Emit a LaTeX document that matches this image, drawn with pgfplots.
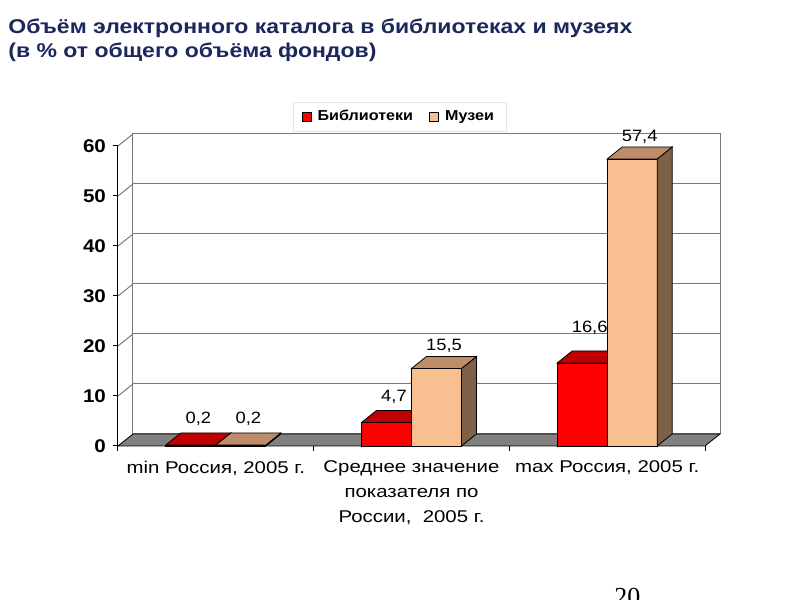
\documentclass[border=0pt]{standalone}
\usepackage{fontspec}
\setmainfont{Liberation Sans}[FakeStretch=1.12]
\newfontfamily\titlefont{Liberation Sans}[FakeStretch=1.15]
\newfontfamily\catfont{Liberation Sans}[FakeStretch=1.2]
\newfontfamily\pagefont{Liberation Serif}
\usepackage{pgfplots}
\usepackage{pgfplotstable}
\pgfplotsset{compat=1.18}
\definecolor{titleblue}{RGB}{28,40,92}
\definecolor{redfront}{RGB}{255,0,0}
\definecolor{redtop}{RGB}{192,0,0}
\definecolor{redside}{RGB}{128,0,0}
\definecolor{tanfront}{RGB}{248,192,144}
\definecolor{tantop}{RGB}{190,140,105}
\definecolor{tanside}{RGB}{125,96,70}
\definecolor{floorgray}{RGB}{128,128,128}
\definecolor{wallgray}{RGB}{120,120,120}
\pgfdeclareplotmark{empty}{}

\pgfplotstableread{
x lib mus llo mlo
0 0.2 0.2 9.5 9.5
1 4.7 15.5 9 7.5
2 16.6 57.4 14 7.5
}\data

\begin{document}
\begin{tikzpicture}
\useasboundingbox (0,0) rectangle (400pt,300pt);
\node[anchor=base west, inner sep=0, text=titleblue, font=\titlefont\bfseries\fontsize{10}{11}\selectfont] at (4pt,283pt) {Объём электронного каталога в библиотеках и музеях};
\node[anchor=base west, inner sep=0, text=titleblue, font=\titlefont\bfseries\fontsize{10}{11}\selectfont] at (4pt,271pt) {(в \% от общего объёма фондов)};

% back wall
\begin{axis}[at={(66.5pt,83pt)}, anchor=south west, scale only axis,
  width=293.5pt, height=150pt, xmin=-0.5, xmax=2.5, ymin=0, ymax=60,
  xtick=\empty, ytick={0,10,...,60}, yticklabels={}, major tick length=0pt,
  ymajorgrids, grid style={draw=wallgray, line width=0.5pt},
  axis line style={draw=wallgray, line width=0.5pt}]
\addplot[draw=none, mark=none] coordinates {(0,0)};
\end{axis}

% front axis with floor, bars
\begin{axis}[at={(59pt,77pt)}, anchor=south west, scale only axis,
  width=293.5pt, height=150pt, xmin=-0.5, xmax=2.5, ymin=0, ymax=60, clip=false,
  axis x line*=bottom, axis y line*=left,
  axis line style={black, line width=0.5pt},
  tick align=outside, major tick length=2.5pt,
  tick style={black, line width=0.5pt},
  ytick={0,10,...,60},
  xtick={-0.5,0.5,1.5,2.5}, xticklabels={},
  extra x ticks={0,1,2},
  extra x tick style={major tick length=0pt},
  extra x tick labels={{min Россия, 2005 г.},{Среднее значение\\показателя по\\России,\ \ 2005 г.},{max Россия, 2005 г.}},
  xticklabel style={align=center, anchor=north, yshift=-4pt, font=\catfont\fontsize{8.5}{12.3}\selectfont},
  yticklabel style={font=\bfseries\fontsize{9.2}{10}\selectfont},
  /pgf/number format/assume math mode=true,
  legend style={at={(0.48,1.097)}, anchor=center, legend columns=2,
    draw=black!10, fill=white, inner ysep=2pt, inner xsep=4pt,
    font=\bfseries\fontsize{7.2}{9}\selectfont,
    /tikz/every odd column/.append style={column sep=1pt},
    /tikz/every even column/.append style={column sep=6pt}},
]
\addlegendimage{legend image code/.code={\draw[fill=redfront,draw=black,line width=0.4pt] (0pt,-2.3pt) rectangle (4.6pt,2.3pt);}}
\addlegendentry{Библиотеки}
\addlegendimage{legend image code/.code={\draw[fill=tanfront,draw=black,line width=0.4pt] (0pt,-2.3pt) rectangle (4.6pt,2.3pt);}}
\addlegendentry{Музеи}

% floor
\fill[floorgray, draw=black, line width=0.4pt] (axis cs:-0.5,0) -- (axis cs:2.5,0) -- ++(7.5pt,6pt) -- ([shift={(7.5pt,6pt)}]axis cs:-0.5,0) -- cycle;
% left wall diagonals
\pgfplotsinvokeforeach{10,20,30,40,50,60}{\draw[wallgray, line width=0.5pt] (axis cs:-0.5,#1) -- ++(7.5pt,6pt);}

% Libraries: front faces
\addplot[forget plot, ybar, bar width=25pt, bar shift=-12.5pt, fill=redfront, draw=black, line width=0.4pt,
  point meta=y,
  visualization depends on={\thisrow{llo} \as \lo},
  nodes near coords={\pgfmathprintnumber[use comma,fixed,fixed zerofill,precision=1]{\pgfplotspointmeta}},
  every node near coord/.append style={font=\fontsize{8.2}{9}\selectfont, text=black, anchor=south, inner sep=0pt, xshift=-8.75pt, yshift=\lo pt}]
  table[x=x, y=lib] {\data};
% Museums: front faces
\addplot[forget plot, ybar, bar width=25pt, bar shift=12.5pt, fill=tanfront, draw=black, line width=0.4pt,
  point meta=y,
  visualization depends on={\thisrow{mlo} \as \lo},
  nodes near coords={\pgfmathprintnumber[use comma,fixed,fixed zerofill,precision=1]{\pgfplotspointmeta}},
  every node near coord/.append style={font=\fontsize{8.2}{9}\selectfont, text=black, anchor=south, inner sep=0pt, xshift=16.25pt, yshift=\lo pt}]
  table[x=x, y=mus] {\data};

% Libraries: full 3D box (front, top, side)
\addplot[forget plot, scatter, only marks, mark=empty,
  visualization depends on={\thisrow{lib} \as \yv},
  scatter/@pre marker code/.code={%
    \pgfmathsetlengthmacro\H{\yv*2.5pt}%
    \fill[redfront, draw=black, line width=0.4pt] (-25pt,-\H) rectangle (0pt,0pt);
    \fill[redside, draw=black, line width=0.4pt] (0pt,0pt) -- (7.5pt,6pt) -- (7.5pt,6pt-\H) -- (0pt,-\H) -- cycle;
    \fill[redtop, draw=black, line width=0.4pt] (-25pt,0pt) -- (0pt,0pt) -- (7.5pt,6pt) -- (-17.5pt,6pt) -- cycle;
  },
  scatter/@post marker code/.code={}]
  table[x=x, y=lib] {\data};
% Museums: full 3D box (front, top, side)
\addplot[forget plot, scatter, only marks, mark=empty,
  visualization depends on={\thisrow{mus} \as \yv},
  scatter/@pre marker code/.code={%
    \pgfmathsetlengthmacro\H{\yv*2.5pt}%
    \fill[tanfront, draw=black, line width=0.4pt] (0pt,-\H) rectangle (25pt,0pt);
    \fill[tanside, draw=black, line width=0.4pt] (25pt,0pt) -- (32.5pt,6pt) -- (32.5pt,6pt-\H) -- (25pt,-\H) -- cycle;
    \fill[tantop, draw=black, line width=0.4pt] (0pt,0pt) -- (25pt,0pt) -- (32.5pt,6pt) -- (7.5pt,6pt) -- cycle;
  },
  scatter/@post marker code/.code={}]
  table[x=x, y=mus] {\data};
\end{axis}

\node[anchor=base west, inner sep=0, font=\pagefont\fontsize{13}{14}\selectfont] at (307pt,-2.6pt) {20};
\end{tikzpicture}
\end{document}
